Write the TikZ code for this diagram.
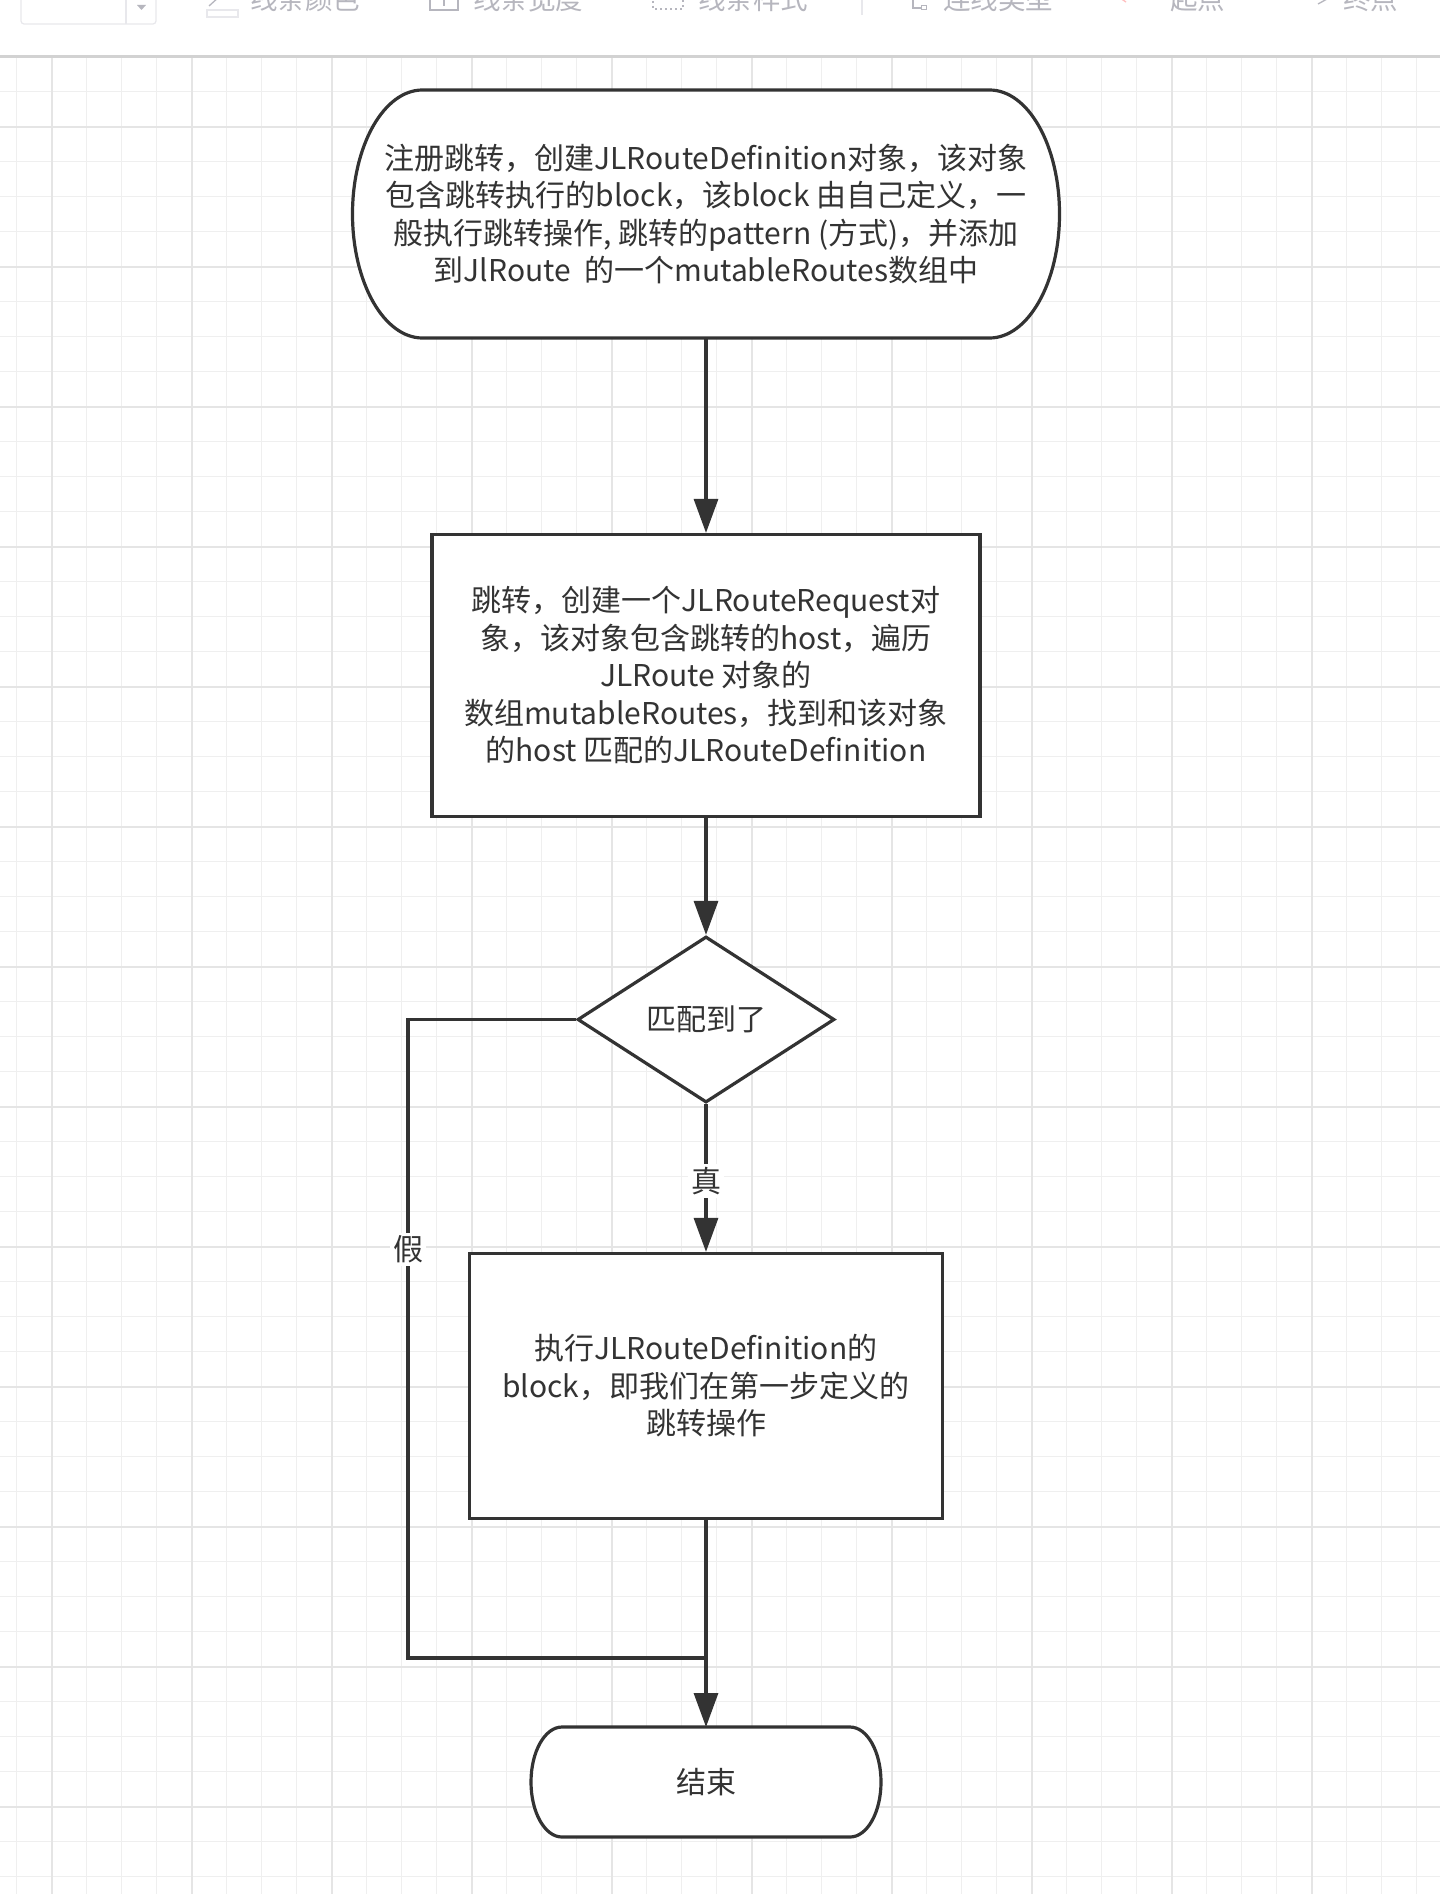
\documentclass[tikz,border=0pt]{standalone}
\usepackage{fontspec}
\setmainfont{Noto Sans CJK SC}
\usetikzlibrary{arrows.meta, positioning, calc, shapes.geometric, backgrounds}
\definecolor{cline}{HTML}{333333}
\definecolor{cgridminor}{HTML}{EFEFEF}
\definecolor{cgridmajor}{HTML}{E5E5E5}
\definecolor{cbar}{HTML}{D2D2D2}
\definecolor{cmenu}{HTML}{B6B6BE}
\definecolor{cmenubox}{HTML}{E8E8EC}

\begin{document}
\begin{tikzpicture}[x=1pt, y=-1pt,
  txt/.style={text=cline, font=\fontsize{30}{37.5}\selectfont},
  box/.style={txt, draw=cline, line width=3.2pt, fill=white, align=center, inner sep=0pt},
  term/.style={txt, align=center, inner sep=0pt, outer sep=0pt},
  decide/.style={txt, diamond, draw=cline, line width=3.2pt, fill=white, inner sep=2pt},
  termline/.style={draw=cline, line width=3.2pt, fill=white},
  flow/.style={draw=cline, line width=3.2pt, -{Triangle[length=34pt, width=24pt]}},
  wire/.style={draw=cline, line width=3.2pt},
  lab/.style={txt, fill=white, inner sep=3pt},
  menu/.style={text=cmenu, font=\fontsize{27.5}{30}\selectfont, inner sep=0pt, anchor=base west},
  icon/.style={draw=cmenu, line width=1.3pt},
  gridminor/.style={cgridminor, line width=1.5pt},
  gridmajor/.style={cgridmajor, line width=1.8pt}]
  \useasboundingbox (0,0) rectangle (1440,1894);
  \clip (0,0) rectangle (1440,1894);

  % canvas grid
  \begin{scope}[on background layer]
    \fill[white] (0,0) rectangle (1440,1894);
    \foreach \i in {0,...,40}{
      \draw[gridminor] ({16.7+35*\i},57) -- ({16.7+35*\i},1894);
    }
    \foreach \j in {0,...,52}{
      \draw[gridminor] (0,{56.7+35*\j}) -- (1440,{56.7+35*\j});
    }
    \foreach \i in {0,...,9}{
      \draw[gridmajor] ({51.7+140*\i},57) -- ({51.7+140*\i},1894);
    }
    \foreach \j in {0,...,12}{
      \draw[gridmajor] (0,{126.7+140*\j}) -- (1440,{126.7+140*\j});
    }
    \draw[cbar, line width=2.5pt] (0,56.5) -- (1440,56.5);
  \end{scope}

  % toolbar (cut off at the top)
  \draw[cmenubox, line width=1.2pt, rounded corners=3pt] (21,-6) rectangle (156,24);
  \draw[cmenubox, line width=1.2pt] (126,-6) -- (126,24);
  \fill[cmenu] (137,5) -- (146,5) -- (141.5,10) -- cycle;
  \draw[icon] (209,6) -- (219,-3);
  \draw[icon, draw=cmenubox] (207,10) rectangle (238,17);
  \node[menu] (mcolor) at (250,10) {线条颜色};
  \draw[icon] (430,-6) rectangle (458,10);
  \draw[icon] (444,-1) -- (444,6);
  \node[menu] (mwidth) at (473,10) {线条宽度};
  \draw[icon, dash pattern=on 2pt off 3pt] (653,-4) rectangle (683,9);
  \node[menu] (mstyle) at (698,10) {线条样式};
  \draw[icon, draw=cmenubox] (862,0) -- (862,15);
  \draw[icon] (913,-3) -- (913,8) -- (921,8);
  \draw[icon, line width=1pt] (921,6) rectangle (926,10);
  \node[menu] (mlink) at (943,10) {连线类型};
  \draw[icon, draw=red!25] (1120,-2) -- (1126,2);
  \node[menu] (mstart) at (1170,10) {起点};
  \draw[icon] (1318,4) -- (1327,-1);
  \node[menu] (mend) at (1343,10) {终点};

  % flow chart
  \node[term, minimum width=707pt, minimum height=248pt] (reg) at (706,214)
    {注册跳转，创建JLRouteDefinition对象，该对象\\包含跳转执行的block，该block 由自己定义，一\\般执行跳转操作, 跳转的pattern (方式)，并添加\\到JlRoute\ \ 的一个mutableRoutes数组中};
  \node[box, minimum width=548pt, minimum height=282pt] (req) at (706,675.5)
    {跳转，创建一个JLRouteRequest对\\象，该对象包含跳转的host，遍历\\JLRoute 对象的\\数组mutableRoutes，找到和该对象\\的host 匹配的JLRouteDefinition};
  \node[decide, minimum width=257pt, minimum height=166pt] (dec) at (706,1019.5) {匹配到了};
  \node[box, minimum width=473pt, minimum height=265pt] (act) at (706,1386)
    {执行JLRouteDefinition的\\block，即我们在第一步定义的\\跳转操作};
  \node[term, minimum width=350pt, minimum height=110pt] (fin) at (706,1782) {结束};

  \begin{scope}[on background layer]
    \draw[termline] ([xshift=70pt]reg.north west) -- ([xshift=-70pt]reg.north east)
      arc[start angle=90, end angle=-90, x radius=70pt, y radius=124pt]
      -- ([xshift=70pt]reg.south west)
      arc[start angle=270, end angle=90, x radius=70pt, y radius=124pt] -- cycle;
    \draw[termline] ([xshift=31pt]fin.north west) -- ([xshift=-31pt]fin.north east)
      arc[start angle=90, end angle=-90, x radius=31pt, y radius=55pt]
      -- ([xshift=31pt]fin.south west)
      arc[start angle=270, end angle=90, x radius=31pt, y radius=55pt] -- cycle;
  \end{scope}

  \coordinate (bend) at (408,1658);
  \coordinate (merge) at (706,1658);
  \draw[flow] (reg) -- (req);
  \draw[flow] (req) -- (dec);
  \draw[flow] (dec) -- node[lab, pos=0.52] {真} (act);
  \draw[flow] (act) -- (fin);
  \draw[wire] (dec.west) -| node[lab, pos=0.68] {假} (bend) -- (merge);
\end{tikzpicture}
\end{document}
